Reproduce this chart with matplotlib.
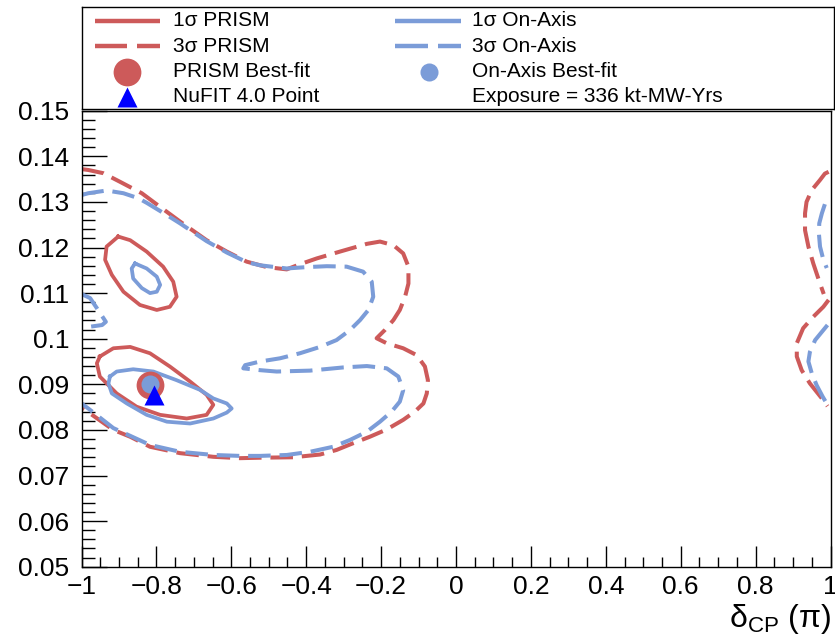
import numpy as np
import matplotlib
matplotlib.use('Agg')
import matplotlib.pyplot as plt
from matplotlib.ticker import MultipleLocator

plt.rcParams['font.family'] = ['Liberation Sans', 'DejaVu Sans']
plt.rcParams['mathtext.fontset'] = 'custom'
plt.rcParams['mathtext.rm'] = 'Liberation Sans'
plt.rcParams['mathtext.it'] = 'Liberation Sans:italic'

# ---- contour data (delta_CP / pi , y) ----
# 3 sigma PRISM, main open contour (left edge -> top -> right lobe -> bottom -> left edge)
prism3_x = [-1.0, -0.982, -0.942, -0.897, -0.839, -0.790, -0.737, -0.666, -0.612, -0.559,
            -0.505, -0.452, -0.421, -0.372, -0.310, -0.238, -0.203, -0.167, -0.141, -0.127,
            -0.127, -0.136, -0.150, -0.167, -0.190, -0.212, -0.185, -0.141, -0.105, -0.083,
            -0.075, -0.078, -0.087, -0.110, -0.141, -0.185, -0.230, -0.274, -0.319, -0.363,
            -0.434, -0.523, -0.577, -0.648, -0.737, -0.817, -0.870, -0.915, -0.977, -1.0]
prism3_y = [0.1372, 0.1370, 0.1363, 0.1344, 0.1319, 0.1289, 0.1257, 0.1216, 0.1191, 0.1169,
            0.1157, 0.1152, 0.1162, 0.1176, 0.1191, 0.1208, 0.1213, 0.1205, 0.1187, 0.1158,
            0.1121, 0.1092, 0.1063, 0.1041, 0.1019, 0.1001, 0.0990, 0.0979, 0.0964, 0.0939,
            0.0909, 0.0880, 0.0858, 0.0840, 0.0822, 0.0801, 0.0785, 0.0771, 0.0756, 0.0746,
            0.0740, 0.0739, 0.0738, 0.0741, 0.0749, 0.0763, 0.0785, 0.0800, 0.0836, 0.0848]
# 3 sigma PRISM, pieces at the right edge
prism3_r1_x = [0.995, 0.985, 0.972, 0.950, 0.936, 0.932, 0.932, 0.941, 0.954, 0.972, 0.982]
prism3_r1_y = [0.1366, 0.1362, 0.1348, 0.1326, 0.1300, 0.1275, 0.1238, 0.1202, 0.1165, 0.1121, 0.1098]
prism3_r2_x = [0.995, 0.981, 0.954, 0.927, 0.910, 0.910, 0.923, 0.945, 0.977, 0.992]
prism3_r2_y = [0.1085, 0.1070, 0.1048, 0.1023, 0.0990, 0.0961, 0.0931, 0.0902, 0.0869, 0.0852]

# 3 sigma On-Axis, main open contour
onaxis3_x = [-1.0, -0.982, -0.933, -0.888, -0.848, -0.826, -0.772, -0.737, -0.666, -0.612,
             -0.559, -0.523, -0.452, -0.399, -0.345, -0.292, -0.248, -0.225, -0.221, -0.234,
             -0.256, -0.283, -0.319, -0.363, -0.417, -0.470, -0.523, -0.563, -0.568, -0.523,
             -0.479, -0.390, -0.301, -0.238, -0.185, -0.154, -0.141, -0.150, -0.172, -0.203,
             -0.238, -0.283, -0.328, -0.390, -0.452, -0.523, -0.577, -0.648, -0.737, -0.817,
             -0.870, -0.915, -0.982, -1.0]
onaxis3_y = [0.1315, 0.1319, 0.1325, 0.1319, 0.1308, 0.1298, 0.1271, 0.1253, 0.1214, 0.1189,
             0.1168, 0.1161, 0.1154, 0.1157, 0.1159, 0.1158, 0.1147, 0.1125, 0.1092, 0.1063,
             0.1041, 0.1019, 0.0997, 0.0982, 0.0968, 0.0957, 0.0950, 0.0942, 0.0935, 0.0931,
             0.0928, 0.0930, 0.0937, 0.0940, 0.0935, 0.0917, 0.0887, 0.0862, 0.0840, 0.0818,
             0.0796, 0.0778, 0.0763, 0.0752, 0.0745, 0.0743, 0.0743, 0.0745, 0.0752, 0.0767,
             0.0787, 0.0804, 0.0847, 0.0858]
onaxis3_l_x = [-1.0, -0.977, -0.959, -0.935, -0.945, -0.980, -1.0]
onaxis3_l_y = [0.1098, 0.1089, 0.1067, 0.1037, 0.1030, 0.1026, 0.1025]
onaxis3_r1_x = [0.985, 0.977, 0.970, 0.969, 0.972, 0.981, 0.990]
onaxis3_r1_y = [0.1295, 0.1275, 0.1253, 0.1231, 0.1202, 0.1173, 0.1155]
onaxis3_r2_x = [0.992, 0.977, 0.959, 0.945, 0.941, 0.950, 0.963, 0.979, 0.987]
onaxis3_r2_y = [0.1030, 0.1015, 0.0997, 0.0971, 0.0950, 0.0924, 0.0898, 0.0873, 0.0862]

# 1 sigma PRISM, two closed islands
prism1_a_x = [-0.902, -0.870, -0.826, -0.782, -0.755, -0.746, -0.764, -0.799, -0.844, -0.888,
              -0.919, -0.937, -0.933, -0.902]
prism1_a_y = [0.1224, 0.1216, 0.1191, 0.1158, 0.1125, 0.1092, 0.1070, 0.1063, 0.1074, 0.1103,
              0.1140, 0.1173, 0.1202, 0.1224]
prism1_b_x = [-0.951, -0.915, -0.870, -0.817, -0.764, -0.710, -0.666, -0.648, -0.666, -0.719,
              -0.790, -0.853, -0.906, -0.951, -0.959, -0.951]
prism1_b_y = [0.0961, 0.0979, 0.0982, 0.0968, 0.0939, 0.0906, 0.0877, 0.0855, 0.0833, 0.0825,
              0.0833, 0.0851, 0.0880, 0.0917, 0.0946, 0.0961]

# 1 sigma On-Axis, two closed islands
onaxis1_a_x = [-0.857, -0.826, -0.799, -0.790, -0.799, -0.817, -0.839, -0.862, -0.866, -0.857]
onaxis1_a_y = [0.1165, 0.1154, 0.1136, 0.1118, 0.1103, 0.1100, 0.1111, 0.1132, 0.1154, 0.1165]
onaxis1_b_x = [-0.924, -0.906, -0.862, -0.808, -0.746, -0.684, -0.648, -0.612, -0.599, -0.612,
               -0.648, -0.710, -0.772, -0.826, -0.879, -0.919, -0.928, -0.924]
onaxis1_b_y = [0.0917, 0.0928, 0.0933, 0.0928, 0.0909, 0.0888, 0.0869, 0.0858, 0.0847, 0.0838,
               0.0825, 0.0814, 0.0818, 0.0833, 0.0858, 0.0880, 0.0902, 0.0917]

# best-fit points
prism_bf = (-0.817, 0.0898)
onaxis_bf = (-0.817, 0.0900)
nufit_pt = (-0.806, 0.0877)

xticks = [-1, -0.8, -0.6, -0.4, -0.2, 0, 0.2, 0.4, 0.6, 0.8, 1]
xtick_labels = ['\u22121', '\u22120.8', '\u22120.6', '\u22120.4', '\u22120.2', '0',
                '0.2', '0.4', '0.6', '0.8', '1']
yticks = [0.05, 0.06, 0.07, 0.08, 0.09, 0.10, 0.11, 0.12, 0.13, 0.14, 0.15]
ytick_labels = ['0.05', '0.06', '0.07', '0.08', '0.09', '0.1', '0.11', '0.12', '0.13', '0.14', '0.15']

red = '#CD5A5A'
blue = '#7B9CD8'
lw1 = 2.7
lw3 = 2.9
dash = (5.6, 2.2)

fig = plt.figure(figsize=(8.35, 6.39), dpi=100)
ax = fig.add_axes([81.5 / 835, (639 - 566.7) / 639, (830.5 - 81.5) / 835, (566.7 - 110.7) / 639])

# PRISM first, On-Axis drawn on top
for xs, ys in [(prism3_x, prism3_y), (prism3_r1_x, prism3_r1_y), (prism3_r2_x, prism3_r2_y)]:
    ax.plot(xs, ys, color=red, lw=lw3, dashes=dash, dash_capstyle='butt')
for xs, ys in [(prism1_a_x, prism1_a_y), (prism1_b_x, prism1_b_y)]:
    ax.plot(xs, ys, color=red, lw=lw1)
for xs, ys in [(onaxis3_x, onaxis3_y), (onaxis3_l_x, onaxis3_l_y),
               (onaxis3_r1_x, onaxis3_r1_y), (onaxis3_r2_x, onaxis3_r2_y)]:
    ax.plot(xs, ys, color=blue, lw=lw3, dashes=dash, dash_capstyle='butt')
for xs, ys in [(onaxis1_a_x, onaxis1_a_y), (onaxis1_b_x, onaxis1_b_y)]:
    ax.plot(xs, ys, color=blue, lw=lw1)

ax.plot(*prism_bf, 'o', color=red, ms=20, mec='none')
ax.plot(*onaxis_bf, 'o', color=blue, ms=13, mec='none')
ax.plot(*nufit_pt, '^', color='blue', ms=14, mec='none')

ax.set_xlim(-1, 1)
ax.set_ylim(0.05, 0.15)
ax.set_xticks(xticks)
ax.set_xticklabels(xtick_labels)
ax.set_yticks(yticks)
ax.set_yticklabels(ytick_labels)
ax.xaxis.set_minor_locator(MultipleLocator(0.05))
ax.yaxis.set_minor_locator(MultipleLocator(0.002))
ax.tick_params(which='both', direction='in', top=False, right=False, labelsize=19, width=1)
ax.tick_params(axis='x', which='major', length=15, pad=6)
ax.tick_params(axis='x', which='minor', length=7)
ax.tick_params(axis='y', which='major', length=18, pad=9)
ax.tick_params(axis='y', which='minor', length=9)
for s in ax.spines.values():
    s.set_linewidth(1.0)

fig.text(831 / 835, 3 / 639, r'$\mathrm{\delta_{CP}}\ \mathrm{(\pi)}$', ha='right', va='bottom', fontsize=23)

# legend box
lax = fig.add_axes([81.5 / 835, (639 - 109) / 639, (834 - 81.5) / 835, (109 - 7.3) / 639])
lax.set_xlim(81.5, 834)
lax.set_ylim(109, 7.3)
lax.set_xticks([])
lax.set_yticks([])
for s in lax.spines.values():
    s.set_linewidth(1.0)

rows = [21, 46, 71.5, 97]
fs = 15
lax.plot([95, 160], [rows[0]] * 2, color=red, lw=3.2, solid_capstyle='butt')
lax.plot([95, 127], [rows[1]] * 2, color=red, lw=3.2, solid_capstyle='butt')
lax.plot([137, 160], [rows[1]] * 2, color=red, lw=3.2, solid_capstyle='butt')
lax.plot([127], [rows[2]], 'o', color=red, ms=20, mec='none')
lax.plot([127], [rows[3]], '^', color='blue', ms=14, mec='none')
lax.plot([395, 461], [rows[0]] * 2, color=blue, lw=3.2, solid_capstyle='butt')
lax.plot([395, 428], [rows[1]] * 2, color=blue, lw=3.2, solid_capstyle='butt')
lax.plot([438, 461], [rows[1]] * 2, color=blue, lw=3.2, solid_capstyle='butt')
lax.plot([429], [rows[2]], 'o', color=blue, ms=13, mec='none')

left_txt = ['1\u03c3 PRISM', '3\u03c3 PRISM', 'PRISM Best-fit', 'NuFIT 4.0 Point']
right_txt = ['1\u03c3 On-Axis', '3\u03c3 On-Axis', 'On-Axis Best-fit', 'Exposure = 336 kt-MW-Yrs']
for r, lt, rt in zip(rows, left_txt, right_txt):
    lax.text(173, r, lt, fontsize=fs, va='center', ha='left')
    lax.text(472, r, rt, fontsize=fs, va='center', ha='left')

fig.savefig('out.png', dpi=100)
